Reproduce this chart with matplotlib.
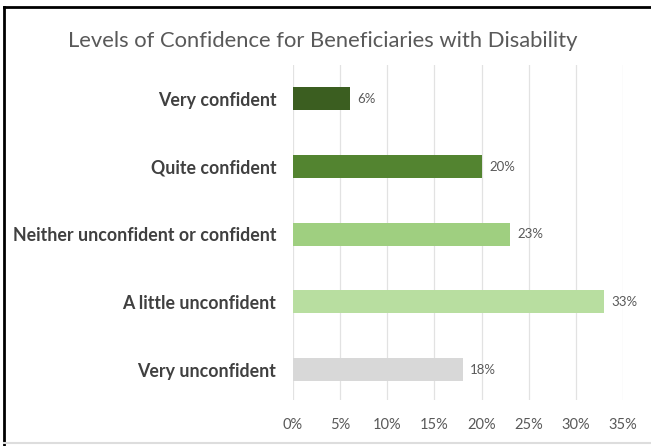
import numpy as np
import matplotlib.pyplot as plt
from matplotlib.lines import Line2D

# confidence levels, top to bottom
categories = ['Very confident', 'Quite confident', 'Neither unconfident or confident',
              'A little unconfident', 'Very unconfident']
values = [6, 20, 23, 33, 18]
bar_colors = ['#3b5e20', '#538430', '#9fcf80', '#b8dea0', '#d8d8d8']
xticks = [0, 5, 10, 15, 20, 25, 30, 35]

plt.rcParams['font.family'] = ['Lato', 'DejaVu Sans']

fig = plt.figure(figsize=(6.51, 4.46), dpi=100)
ax = fig.add_axes([0.450, 0.103, 0.507, 0.751])

y = np.arange(len(categories))
ax.barh(y, values, height=0.34, color=bar_colors, zorder=3)

for yi, v in zip(y, values):
    ax.text(v + 0.8, yi, '%d%%' % v, va='center', ha='left', fontsize=9.5, color='#595959')

ax.set_xlim(0, 35)
ax.set_ylim(4.45, -0.5)
ax.set_xticks(xticks)
ax.set_xticklabels(['%d%%' % t for t in xticks], fontsize=10.5, color='#595959')
ax.set_yticks(y)
ax.set_yticklabels(categories, fontsize=12.8, fontweight='bold', color='#404040')
ax.tick_params(axis='both', length=0)
ax.tick_params(axis='x', pad=13)
ax.tick_params(axis='y', pad=12)
ax.grid(axis='x', color='#e2e2e2', lw=0.9, zorder=0)
for s in ax.spines.values():
    s.set_visible(False)

fig.text(0.496, 0.908, 'Levels of Confidence for Beneficiaries with Disability',
         ha='center', va='center', fontsize=15.8, color='#595959')

# outer frame (left and top edges)
fig.add_artist(Line2D([0.0069, 0.0069], [0.0, 0.984], color='black', lw=2))
fig.add_artist(Line2D([0.0069, 1.0], [0.984, 0.984], color='black', lw=2))
fig.add_artist(Line2D([0.0069, 1.0], [0.006, 0.006], color='#dddddd', lw=1.5))

fig.savefig('out.png', dpi=100)
